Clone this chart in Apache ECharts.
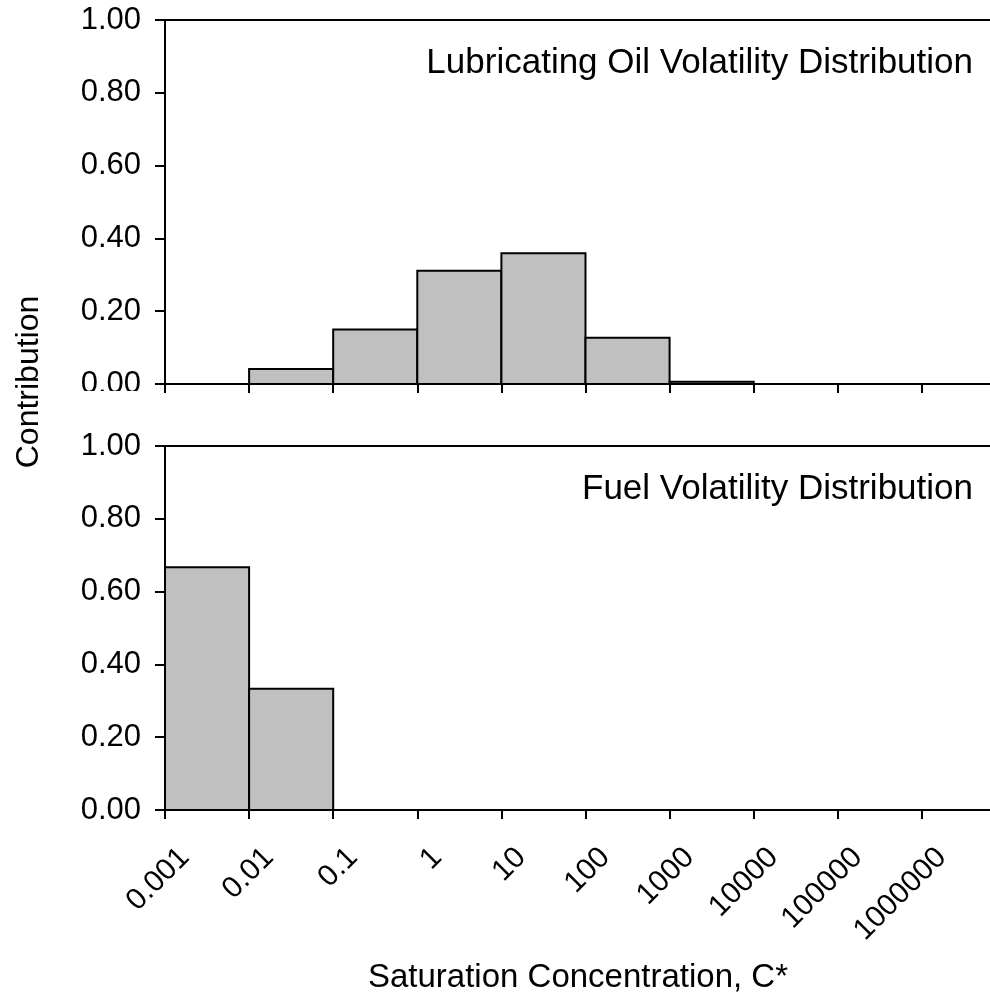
<!DOCTYPE html>
<html>
<head>
<meta charset="utf-8">
<script src="https://cdn.jsdelivr.net/npm/echarts@6/dist/echarts.min.js"></script>
<style>
html,body{margin:0;padding:0;background:#fff;}
#chart{width:990px;height:1000px;}
</style>
</head>
<body>
<div id="chart"></div>
<script>
// ---- data ----
var categories = ['0.001','0.01','0.1','1','10','100','1000','10000','100000','1000000'];
var binLogStart = [-3,-2,-1,0,1,2,3,4,5,6];
var lubeValues = [0, 0.041, 0.150, 0.311, 0.359, 0.127, 0.006, 0, 0, 0];
var fuelValues = [0.667, 0.333, 0, 0, 0, 0, 0, 0, 0, 0];
var panelTitles = ['Lubricating Oil Volatility Distribution', 'Fuel Volatility Distribution'];
var yAxisTitle = 'Contribution';
var xAxisTitle = 'Saturation Concentration, C*';

var FONT = '"Liberation Sans", Arial, sans-serif';
var chart = echarts.init(document.getElementById('chart'), null, {renderer:'canvas'});

function seriesData(vals){
  var out = [];
  for (var i=0;i<vals.length;i++){ if (vals[i] > 0) out.push([binLogStart[i], vals[i]]); }
  return out;
}
function renderBar(params, api){
  var x0 = api.value(0), v = api.value(1);
  var p1 = api.coord([x0, v]);
  var p2 = api.coord([x0 + 1, 0]);
  return {
    type:'rect',
    shape:{x:p1[0], y:p1[1], width:p2[0]-p1[0], height:p2[1]-p1[1]},
    style:{fill:'#c0c0c0', stroke:'#000', lineWidth:2}
  };
}
function xAxisFor(idx, showLabels){
  return {
    type:'value', gridIndex:idx, min:-3, max:6.81, interval:1,
    axisLine:{show:true, onZero:false, lineStyle:{color:'#000', width:2}},
    axisTick:{show:true, inside:false, length:9, interval:0, customValues:binLogStart, lineStyle:{color:'#000', width:2}},
    axisLabel:{show:showLabels, customValues:binLogStart, rotate:45, margin:23, interval:0,
      showMinLabel:true, showMaxLabel:true, hideOverlap:false,
      color:'#000', fontFamily:FONT, fontSize:30, verticalAlign:'top', align:'right',
      lineHeight:56,
      formatter:function(v){ var i = binLogStart.indexOf(Math.round(v)); return i>=0 ? categories[i] : ''; }},
    splitLine:{show:false}
  };
}
function yAxisFor(idx){
  return {
    type:'value', gridIndex:idx, min:0, max:1, interval:0.2,
    axisLine:{show:true, onZero:false, lineStyle:{color:'#000', width:2}},
    axisTick:{show:true, inside:false, length:10, lineStyle:{color:'#000', width:2}},
    axisLabel:{color:'#000', fontFamily:FONT, fontSize:31, margin:24,
      showMinLabel:true, showMaxLabel:true,
      formatter:function(v){ return v.toFixed(2); }},
    splitLine:{show:false}
  };
}
function topLine(){
  return {silent:true, symbol:['none','none'], label:{show:false},
    lineStyle:{color:'#000', width:2, type:'solid'}, data:[{yAxis:1}]};
}

var option = {
  animation:false,
  backgroundColor:'#fff',
  grid:[
    {left:165, top:20, width:825, height:364},
    {left:165, top:446, width:825, height:364}
  ],
  xAxis:[xAxisFor(0,false), xAxisFor(1,true)],
  yAxis:[yAxisFor(0), yAxisFor(1)],
  series:[
    {type:'custom', xAxisIndex:0, yAxisIndex:0, renderItem:renderBar, data:seriesData(lubeValues), markLine:topLine(), z:2},
    {type:'custom', xAxisIndex:1, yAxisIndex:1, renderItem:renderBar, data:seriesData(fuelValues), markLine:topLine(), z:2}
  ],
  graphic:[
    {type:'rect', left:50, top:391, shape:{width:100, height:16}, style:{fill:'#fff'}, z:100},
    {type:'text', x:973, y:63, style:{text:panelTitles[0], fill:'#000', font:'35px ' + FONT, textAlign:'right', textVerticalAlign:'middle'}, z:100},
    {type:'text', x:973, y:489, style:{text:panelTitles[1], fill:'#000', font:'35px ' + FONT, textAlign:'right', textVerticalAlign:'middle'}, z:100},
    {type:'text', x:29, y:382, rotation:Math.PI/2, style:{text:yAxisTitle, fill:'#000', font:'32px ' + FONT, textAlign:'center', textVerticalAlign:'middle'}, z:100},
    {type:'text', x:578, y:978, style:{text:xAxisTitle, fill:'#000', font:'33px ' + FONT, textAlign:'center', textVerticalAlign:'middle'}, z:100}
  ]
};
chart.setOption(option);
</script>
</body>
</html>
